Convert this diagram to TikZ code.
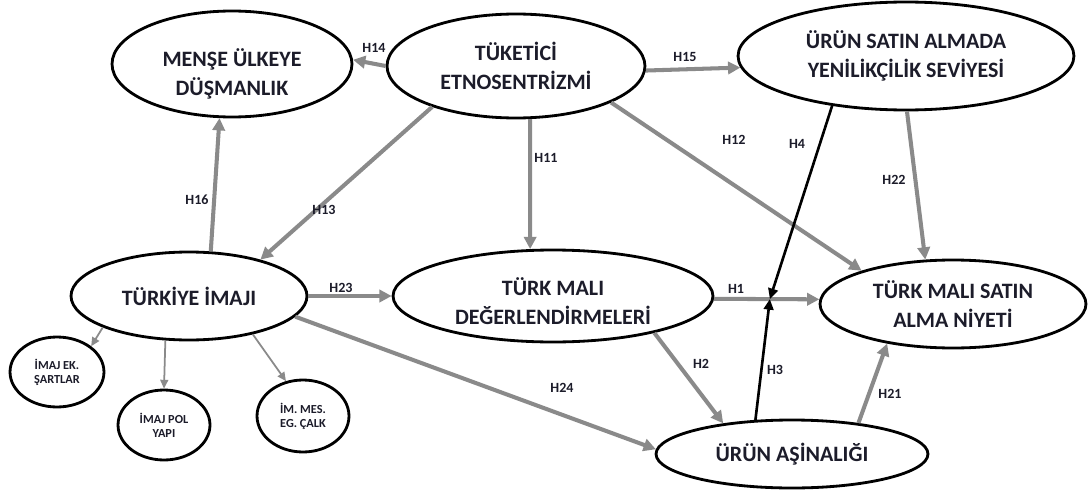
\documentclass[tikz,border=0pt]{standalone}
\usepackage{fontspec}
\setmainfont{Carlito}
\usetikzlibrary{shapes.geometric,arrows.meta,calc}
\definecolor{arrgray}{HTML}{8A8A8A}
\definecolor{txt}{HTML}{1C1C2A}
\tikzset{
  big/.style={ellipse,draw=black,line width=1.6pt,inner sep=0pt,align=center,
    font=\bfseries\fontsize{12.5}{16.3}\selectfont,text=txt},
  bigtext/.style={inner sep=0pt,align=center,
    font=\bfseries\fontsize{12.5}{16.3}\selectfont,text=txt},
  small/.style={ellipse,draw=black,line width=1.6pt,inner sep=0pt,align=center,
    font=\bfseries\fontsize{7}{8}\selectfont,text=txt},
  garr/.style={draw=arrgray,line width=2.3pt,-{Triangle[length=7pt,width=7pt]}},
  barr/.style={draw=black,line width=1.5pt,-{Triangle[length=6pt,width=5.5pt]}},
  tarr/.style={draw=arrgray,line width=1pt,-{Triangle[length=5pt,width=4.5pt]}},
  lab/.style={font=\bfseries\fontsize{8}{9}\selectfont,text=txt,inner sep=0pt}
}
\begin{document}
\begin{tikzpicture}[x=0.02cm,y=-0.02cm]
\useasboundingbox[fill=white] (0,0) rectangle (1089,497);
% main ellipses
\node[big,minimum width=4.8cm,minimum height=2.12cm] (M) at (232,64) {};
\node[bigtext] (Mt) at (232,74) {MENŞE ÜLKEYE\\DÜŞMANLIK};
\node[big,minimum width=5.16cm,minimum height=2.08cm] (T) at (516,66) {TÜKETİCİ\\ETNOSENTRİZMİ};
\node[big,minimum width=6.72cm,minimum height=2.16cm] (U) at (906,56) {ÜRÜN SATIN ALMADA\\YENİLİKÇİLİK SEVİYESİ};
\node[big,minimum width=4.72cm,minimum height=1.76cm] (I) at (189,296) {TÜRKİYE İMAJI};
\node[big,minimum width=6.4cm,minimum height=1.84cm] (D) at (553,296) {};
\node[bigtext] (Dt) at (553,301) {TÜRK MALI\\DEĞERLENDİRMELERİ};
\node[big,minimum width=5.32cm,minimum height=1.76cm] (S) at (953,304) {TÜRK MALI SATIN\\ALMA NİYETİ};
\node[big,minimum width=5.44cm,minimum height=1.36cm] (A) at (792,454) {ÜRÜN AŞİNALIĞI};
% small ellipses
\node[small,minimum width=1.88cm,minimum height=1.4cm] (E1) at (57,372) {İMAJ EK.\\ŞARTLAR};
\node[small,minimum width=1.84cm,minimum height=1.4cm] (E2) at (164,425) {İMAJ POL\\YAPI};
\node[small,minimum width=1.84cm,minimum height=1.44cm] (E3) at (303,416) {İM. MES.\\EG. ÇALK};
% junction on H1
\coordinate (J) at ($(D.-1)!0.53!(S.178)$);
% gray arrows
\draw[garr] (T.180) -- (M.2);
\draw[garr] (T.-2) -- (U.184);
\draw[garr] (T.-75) -- (D.116.6);
\draw[garr] (T.206.8) -- (I.27.5);
\draw[garr] (T.-21.1) -- (S.160.7);
\draw[garr] (I.64) -- (M.257.5);
\draw[garr] (I.east) -- (D.west);
\draw[garr] (D.-1) -- (S.178);
\draw[garr] (U.-89) -- (S.122);
\draw[garr] (D.-20) -- (A.156.6);
\draw[garr] (A.25.9) -- (S.211);
\draw[garr] (I.-11.2) -- (A.178.3);
% black arrows
\draw[barr] (U.214.4) -- (J);
\draw[barr] (A.137.5) -- (J);
% thin arrows
\draw[tarr] (I.200) -- (E1.37);
\draw[tarr] (I.-118) -- (E2.north);
\draw[tarr] (I.-31.4) -- (E3.116.6);
% labels
\node[lab] (l14) at (374,48) {H14};
\node[lab] (l15) at (685,57) {H15};
\node[lab] (l11) at (546,158) {H11};
\node[lab] (l13) at (324,210) {H13};
\node[lab] (l12) at (734,140) {H12};
\node[lab] (l4) at (797,144) {H4};
\node[lab] (l22) at (894,180) {H22};
\node[lab] (l16) at (197,200) {H16};
\node[lab] (l23) at (341,288) {H23};
\node[lab] (l1) at (736,289) {H1};
\node[lab] (l2) at (701,364) {H2};
\node[lab] (l3) at (775,370) {H3};
\node[lab] (l21) at (890,394) {H21};
\node[lab] (l24) at (562,388) {H24};
\end{tikzpicture}
\end{document}
